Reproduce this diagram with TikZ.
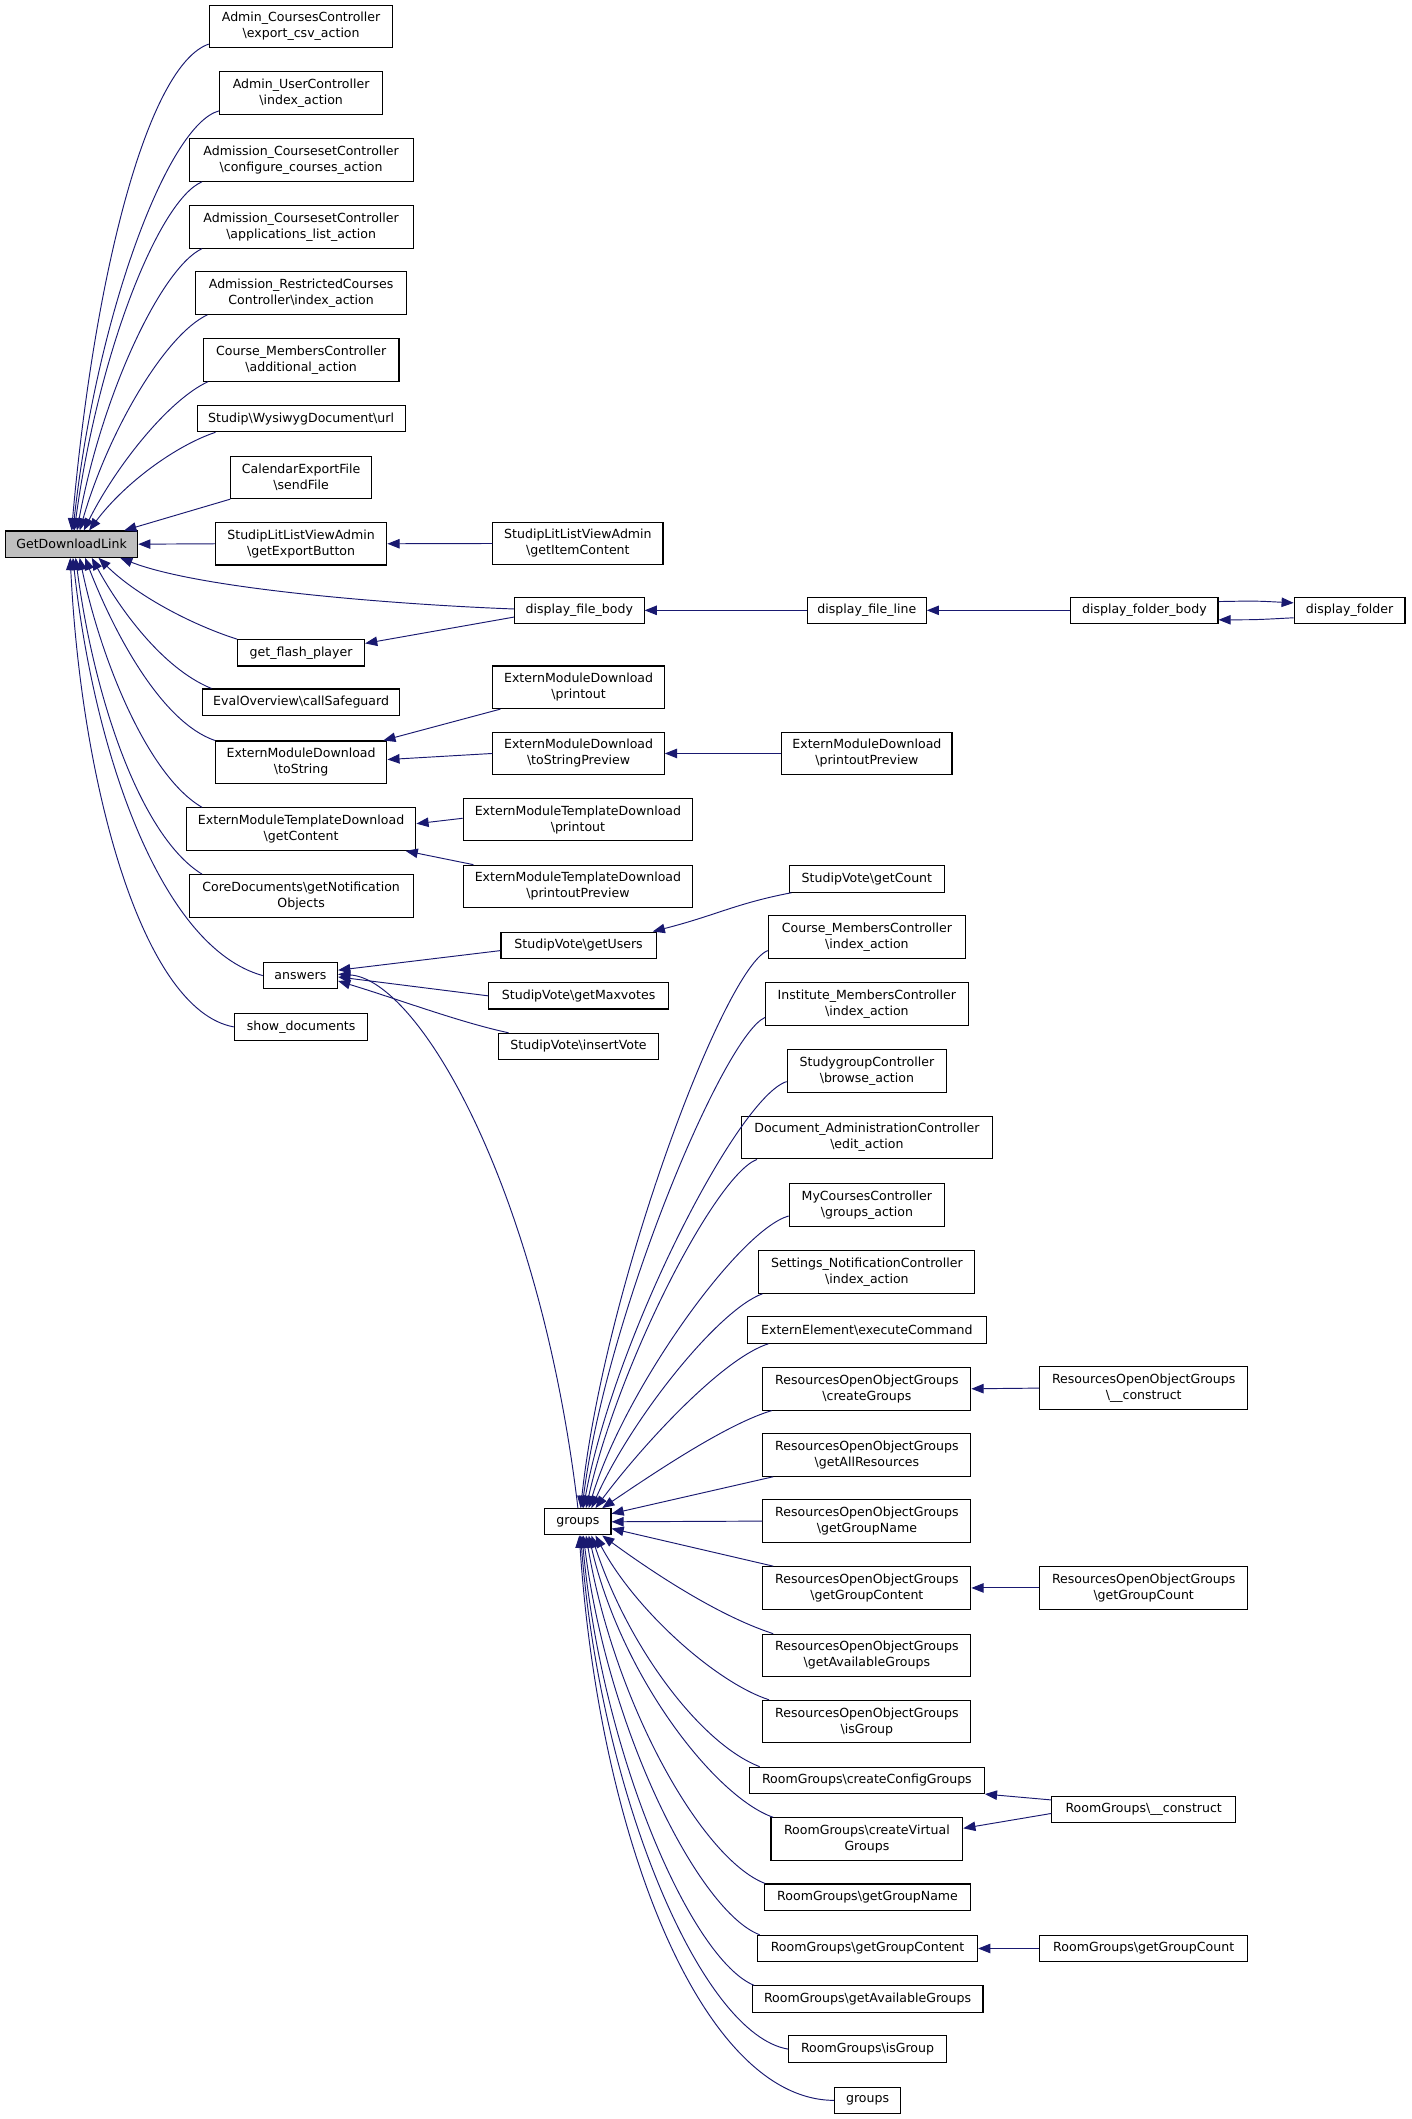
\documentclass[tikz,border=0pt]{standalone}
\usepackage{fontspec}
\setmainfont{DejaVu Sans}
\usetikzlibrary{arrows.meta}
\definecolor{edgeblue}{HTML}{191970}
\definecolor{rootgray}{HTML}{BFBFBF}
\newcommand\bsl{\textbackslash}
\newcommand\nfont{\fontsize{9.3}{11.9}\selectfont}
\begin{document}
\begin{tikzpicture}[x=1pt,y=-1pt,
 box/.style={draw=black,line width=0.8pt,fill=white,inner sep=0pt,align=center,font=\nfont},
 one/.style={box,minimum height=19.5pt},
 two/.style={box,minimum height=31.5pt},
 edge/.style={draw=edgeblue,line width=0.7pt,-{Triangle[length=9pt,width=7pt]}}]
\fill[white] (0,0) rectangle (1045,1569.3);
\path[use as bounding box] (0,0) rectangle (1045,1569.3);
% root
\node[one,fill=rootgray,minimum width=98pt] (root) at (53,403) {GetDownloadLink};
% column 2
\node[two,minimum width=136pt] (n1) at (223,19.5) {Admin\_CoursesController\\\bsl export\_csv\_action};
\node[two,minimum width=121pt] (n2) at (223,69) {Admin\_UserController\\\bsl index\_action};
\node[two,minimum width=166pt] (n3) at (223,118.5) {Admission\_CoursesetController\\\bsl configure\_courses\_action};
\node[two,minimum width=166pt] (n4) at (223,168) {Admission\_CoursesetController\\\bsl applications\_list\_action};
\node[two,minimum width=156pt] (n5) at (223,217) {Admission\_RestrictedCourses\\Controller\bsl index\_action};
\node[two,minimum width=145pt] (n6) at (223,266.5) {Course\_MembersController\\\bsl additional\_action};
\node[one,minimum width=154pt] (n7) at (223,310) {Studip\bsl WysiwygDocument\bsl url};
\node[two,minimum width=104pt] (n8) at (223,353.5) {CalendarExportFile\\\bsl sendFile};
\node[two,minimum width=127pt] (n9) at (223,402.7) {StudipLitListViewAdmin\\\bsl getExportButton};
\node[one,minimum width=94pt] (n10) at (223,483.5) {get\_flash\_player};
\node[one,minimum width=146pt] (n11) at (223,520) {EvalOverview\bsl callSafeguard};
\node[two,minimum width=127pt] (n12) at (223,564.5) {ExternModuleDownload\\\bsl toString};
\node[two,minimum width=170pt] (n13) at (223,614) {ExternModuleTemplateDownload\\\bsl getContent};
\node[two,minimum width=166pt] (n14) at (223,663.5) {CoreDocuments\bsl getNotification\\Objects};
\node[one,minimum width=55pt] (ans) at (222.5,722.5) {answers};
\node[one,minimum width=99pt] (n16) at (223,760.5) {show\_documents};
% column 3
\node[two,minimum width=126pt] (gic) at (428,402.5) {StudipLitListViewAdmin\\\bsl getItemContent};
\node[one,minimum width=96pt] (dfb) at (429,452) {display\_file\_body};
\node[two,minimum width=127pt] (emp) at (428.5,509) {ExternModuleDownload\\\bsl printout};
\node[two,minimum width=127pt] (tsp) at (428.5,558) {ExternModuleDownload\\\bsl toStringPreview};
\node[two,minimum width=170pt] (tp) at (428,607) {ExternModuleTemplateDownload\\\bsl printout};
\node[two,minimum width=170pt] (tpp) at (428,656.5) {ExternModuleTemplateDownload\\\bsl printoutPreview};
\node[one,minimum width=115pt] (gu) at (428.5,700) {StudipVote\bsl getUsers};
\node[one,minimum width=133pt] (gm) at (428.5,737.5) {StudipVote\bsl getMaxvotes};
\node[one,minimum width=119pt] (iv) at (428.5,775) {StudipVote\bsl insertVote};
\node[one,minimum width=49pt] (grp) at (428,1127) {groups};
% column 4
\node[one,minimum width=88pt] (dfl) at (642,452) {display\_file\_line};
\node[two,minimum width=126pt] (pp) at (642,558) {ExternModuleDownload\\\bsl printoutPreview};
\node[one,minimum width=115pt] (gc) at (642,651) {StudipVote\bsl getCount};
\node[two,minimum width=146pt] (cmi) at (642,694) {Course\_MembersController\\\bsl index\_action};
\node[two,minimum width=150pt] (imi) at (642,743.5) {Institute\_MembersController\\\bsl index\_action};
\node[two,minimum width=118pt] (sgc) at (642,793) {StudygroupController\\\bsl browse\_action};
\node[two,minimum width=186pt] (dac) at (642,842.5) {Document\_AdministrationController\\\bsl edit\_action};
\node[two,minimum width=115pt] (mcc) at (642,892.5) {MyCoursesController\\\bsl groups\_action};
\node[two,minimum width=160pt] (snc) at (642,942) {Settings\_NotificationController\\\bsl index\_action};
\node[one,minimum width=177pt] (eec) at (642,985) {ExternElement\bsl executeCommand};
\node[two,minimum width=154pt] (cg) at (642,1028.5) {ResourcesOpenObjectGroups\\\bsl createGroups};
\node[two,minimum width=154pt] (gar) at (642,1077.5) {ResourcesOpenObjectGroups\\\bsl getAllResources};
\node[two,minimum width=154pt] (ggn) at (642,1126.5) {ResourcesOpenObjectGroups\\\bsl getGroupName};
\node[two,minimum width=154pt] (ggc) at (642,1176) {ResourcesOpenObjectGroups\\\bsl getGroupContent};
\node[two,minimum width=154pt] (gag) at (642,1226) {ResourcesOpenObjectGroups\\\bsl getAvailableGroups};
\node[two,minimum width=154pt] (isg) at (642,1275) {ResourcesOpenObjectGroups\\\bsl isGroup};
\node[one,minimum width=174pt] (ccg) at (642,1318.5) {RoomGroups\bsl createConfigGroups};
\node[two,minimum width=142pt] (cvg) at (642,1362) {RoomGroups\bsl createVirtual\\Groups};
\node[one,minimum width=153pt] (rgn) at (642.5,1405) {RoomGroups\bsl getGroupName};
\node[one,minimum width=163pt] (rgc) at (642.5,1443) {RoomGroups\bsl getGroupContent};
\node[one,minimum width=171pt] (rag) at (642.5,1480.5) {RoomGroups\bsl getAvailableGroups};
\node[one,minimum width=117pt] (rig) at (642.5,1517.5) {RoomGroups\bsl isGroup};
\node[one,minimum width=49pt] (grp2) at (642.5,1555.5) {groups};
% column 5
\node[one,minimum width=109pt] (dfob) at (847.5,452) {display\_folder\_body};
\node[two,minimum width=154pt] (roc) at (847,1028) {ResourcesOpenObjectGroups\\\bsl \_\_construct};
\node[two,minimum width=154pt] (rgcnt) at (847,1176) {ResourcesOpenObjectGroups\\\bsl getGroupCount};
\node[one,minimum width=136pt] (rgcon) at (847,1340) {RoomGroups\bsl\_\_construct};
\node[one,minimum width=154pt] (rgcount) at (847,1443) {RoomGroups\bsl getGroupCount};
% column 6
\node[one,minimum width=82pt] (df) at (999.5,452) {display\_folder};
% edges to root from above
\draw[edge] ([yshift=3pt]n1.south west) .. controls (110,48) and (70,200) .. (root.north);
\draw[edge] ([yshift=3pt]n2.south west) .. controls (125,92) and (72,230) .. ([xshift=1pt]root.north);
\draw[edge] ([xshift=10pt]n3.south west) .. controls (118,148) and (73,260) .. ([xshift=2pt]root.north);
\draw[edge] ([xshift=10pt]n4.south west) .. controls (120,198) and (76,290) .. ([xshift=4pt]root.north);
\draw[edge] ([xshift=9pt]n5.south west) .. controls (122,248) and (80,320) .. ([xshift=6pt]root.north);
\draw[edge] ([xshift=4pt]n6.south west) .. controls (125,296) and (86,345) .. ([xshift=9pt]root.north);
\draw[edge] ([xshift=14pt]n7.south west) .. controls (130,330) and (92,358) .. ([xshift=13pt]root.north);
\draw[edge] (n8.south west) -- ([xshift=39pt]root.north);
\draw[edge] (n9.west) -- (root.east);
% edges to root from below
\draw[edge] ([yshift=1pt]dfb.west) .. controls (300,448) and (150,437) .. ([xshift=36pt]root.south);
\draw[edge] (n10.north west) .. controls (140,462) and (100,440) .. ([xshift=20pt]root.south);
\draw[edge] ([yshift=-5pt]dfb.west) -- ([yshift=7pt]n10.east);
\draw[edge] ([xshift=7pt]n11.north west) .. controls (120,495) and (88,450) .. ([xshift=15pt]root.south);
\draw[edge] (n12.north west) .. controls (120,535) and (85,470) .. ([xshift=10pt]root.south);
\draw[edge] ([xshift=12pt]n13.north west) .. controls (110,575) and (75,490) .. ([xshift=6pt]root.south);
\draw[edge] ([xshift=10pt]n14.north west) .. controls (105,620) and (70,520) .. ([xshift=3pt]root.south);
\draw[edge] (ans.west) .. controls (120,702) and (70,560) .. ([xshift=1pt]root.south);
\draw[edge] (n16.west) .. controls (105,748) and (60,580) .. ([xshift=-1pt]root.south);
% column 3 edges
\draw[edge] (gic.west) -- (n9.east);
\draw[edge] ([xshift=6pt]emp.south west) -- ([xshift=-3pt]n12.north east);
\draw[edge] (tsp.west) -- ([yshift=2pt]n12.east);
\draw[edge] (pp.west) -- (tsp.east);
\draw[edge] ([yshift=1pt]tp.west) -- ([yshift=4pt]n13.east);
\draw[edge] ([xshift=8pt]tpp.north west) -- ([xshift=-8pt]n13.south east);
\draw[edge] ([xshift=2pt]gc.south west) .. controls (545,669) and (530,678) .. ([xshift=-3pt]gu.north east);
\draw[edge] ([yshift=-4pt]gu.west) -- ([yshift=4pt]ans.east);
\draw[edge] (gm.west) -- ([yshift=-1pt]ans.east);
\draw[edge] ([xshift=8pt]iv.north west) .. controls (340,757) and (295,740) .. ([yshift=-4pt]ans.east);
\draw[edge] (grp.north) .. controls (400,880) and (310,725) .. ([yshift=1pt]ans.east);
% display chain
\draw[edge] (dfl.west) -- (dfb.east);
\draw[edge] (dfob.west) -- (dfl.east);
\draw[edge] ([yshift=6.5pt]dfob.east) .. controls (930,445) .. ([yshift=5.5pt]df.west);
\draw[edge] ([yshift=-5.5pt]df.west) .. controls (930,459) .. ([yshift=-7pt]dfob.east);
% edges to groups from above
\draw[edge] ([yshift=-10pt]cmi.west) .. controls (537,716) and (448,950) .. ([xshift=2pt]grp.north);
\draw[edge] ([yshift=-10pt]imi.west) .. controls (537,766) and (450,970) .. ([xshift=3pt]grp.north);
\draw[edge] ([yshift=-8pt]sgc.west) .. controls (547,812) and (455,990) .. ([xshift=4pt]grp.north);
\draw[edge] ([xshift=12pt]dac.south west) .. controls (530,870) and (458,1010) .. ([xshift=6pt]grp.north);
\draw[edge] ([yshift=-8pt]mcc.west) .. controls (547,911) and (462,1030) .. ([xshift=8pt]grp.north);
\draw[edge] ([xshift=3pt]snc.south west) .. controls (532,970) and (468,1050) .. ([xshift=10pt]grp.north);
\draw[edge] ([xshift=16pt]eec.south west) .. controls (535,1006) and (476,1070) .. ([xshift=13pt]grp.north);
\draw[edge] ([xshift=7pt]cg.south west) .. controls (540,1054) and (490,1087) .. ([xshift=18pt]grp.north);
\draw[edge] ([xshift=8pt]gar.south west) -- ([yshift=6pt]grp.east);
\draw[edge] (ggn.west) -- (grp.east);
\draw[edge] ([xshift=8pt]ggc.north west) -- ([yshift=-5pt]grp.east);
% edges to groups from below
\draw[edge] ([xshift=8pt]gag.north west) .. controls (530,1196) and (480,1162) .. ([xshift=18pt]grp.south);
\draw[edge] ([xshift=5pt]isg.north west) .. controls (530,1246) and (470,1192) .. ([xshift=13pt]grp.south);
\draw[edge] ([xshift=8pt]ccg.north west) .. controls (520,1292) and (466,1222) .. ([xshift=10pt]grp.south);
\draw[edge] ([xshift=2pt]cvg.north west) .. controls (530,1331) and (460,1242) .. ([xshift=8pt]grp.south);
\draw[edge] ([xshift=1pt]rgn.north west) .. controls (520,1377) and (455,1262) .. ([xshift=6pt]grp.south);
\draw[edge] ([xshift=2pt]rgc.north west) .. controls (518,1416) and (450,1282) .. ([xshift=4pt]grp.south);
\draw[edge] ([xshift=2pt]rag.north west) .. controls (513,1452) and (446,1302) .. ([xshift=3pt]grp.south);
\draw[edge] (rig.west) .. controls (520,1507) and (445,1332) .. ([xshift=2pt]grp.south);
\draw[edge] (grp2.west) .. controls (520,1555) and (444,1362) .. ([xshift=1pt]grp.south);
% column 5 edges
\draw[edge] (roc.west) -- (cg.east);
\draw[edge] (rgcnt.west) -- (ggc.east);
\draw[edge] ([yshift=7pt]rgcon.west) -- (ccg.south east);
\draw[edge] ([yshift=-3pt]rgcon.west) -- ([yshift=8pt]cvg.east);
\draw[edge] (rgcount.west) -- (rgc.east);
\end{tikzpicture}
\end{document}
